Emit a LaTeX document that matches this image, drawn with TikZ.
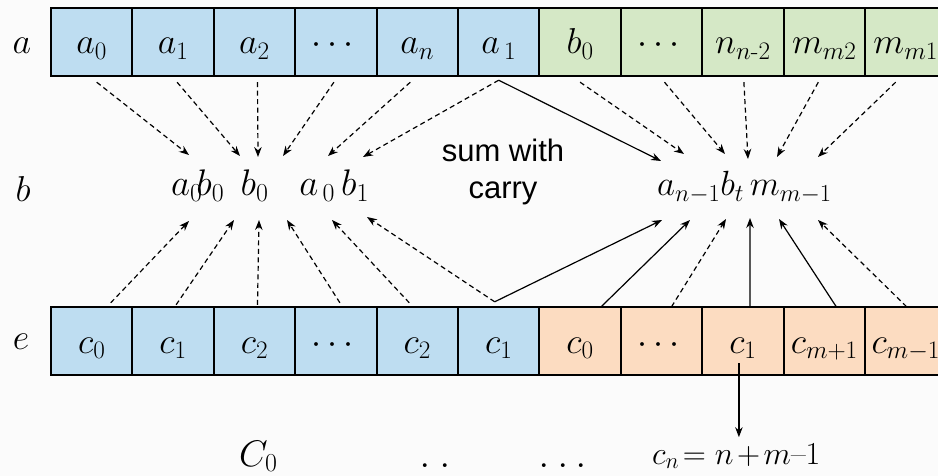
\RequirePackage{fix-cm}
\documentclass[tikz,border=0pt]{standalone}
\usepackage{amsmath}
\usepackage{fontspec}
\setsansfont{Liberation Sans}
\usetikzlibrary{arrows.meta,calc}
\definecolor{cblue}{HTML}{BEDDF1}
\definecolor{cgreen}{HTML}{D5E8C6}
\definecolor{corange}{HTML}{FCDCC1}
\definecolor{bgc}{HTML}{FBFBFB}
\begin{document}
\begin{tikzpicture}[x=1pt,y=-1pt,
  cell/.style={minimum width=81.4pt,minimum height=68pt,inner sep=0pt,
    text height=28pt,text depth=4pt,font=\fontsize{36}{42}\selectfont},
  cellline/.style={line width=1.7pt},
  arr/.style={line width=1.2pt,-{Stealth[length=10pt,width=7.5pt]}},
  dsh/.style={arr,dash pattern=on 5pt off 3.5pt},
  lbl/.style={font=\fontsize{36}{42}\selectfont,inner sep=0pt},
  dots/.style={font=\fontsize{46}{50}\selectfont,inner sep=0pt},
  sumtxt/.style={font=\sffamily\fontsize{31}{37}\selectfont,align=center,inner sep=0pt}]
\useasboundingbox (0,0) rectangle (938,476);
\fill[bgc] (0,0) rectangle (938,476);
\clip (0,0) rectangle (938,476);
% top row
\foreach \i/\t/\c in {0/{$a_0$}/cblue,1/{$a_1$}/cblue,2/{$a_2$}/cblue,3/{$\cdots$}/cblue,
  4/{$a_n$}/cblue,5/{$a_{\,1}$}/cblue,6/{$b_0$}/cgreen,7/{$\cdots$}/cgreen,
  8/{$n_{n\text{-}2}$}/cgreen,9/{$m_{m2}$}/cgreen,10/{$m_{m1}$}/cgreen}
  \node[cell,fill=\c] (t\i) at ({91.7+81.4*\i},42) {\t};
% bottom row
\foreach \i/\t/\c in {0/{$c_0$}/cblue,1/{$c_1$}/cblue,2/{$c_2$}/cblue,3/{$\cdots$}/cblue,
  4/{$c_2$}/cblue,5/{$c_1$}/cblue,6/{$c_0$}/corange,7/{$\cdots$}/corange,
  8/{$c_1$}/corange,9/{$c_{m+1}$}/corange,10/{$c_{m-1}$}/corange}
  \node[cell,fill=\c] (e\i) at ({91.7+81.4*\i},341) {\t};
% cell borders
\foreach \i in {0,...,10} {
  \draw[cellline] (t\i.north west) rectangle (t\i.south east);
  \draw[cellline] (e\i.north west) rectangle (e\i.south east);
}
% row labels
\node[lbl,anchor=base] (la) at (22,54) {$a$};
\node[lbl,anchor=base] (lb) at (23,201) {$b$};
\node[lbl,anchor=base] (le) at (21,349) {$e$};
% middle groups
\node[lbl,anchor=base west,font=\fontsize{37}{42}\selectfont] (lg) at (171,196) {$a_{0}\!b_0\;\, b_0\;\;\; a_{\,0}\,b_1$};
\node[lbl,anchor=base west,font=\fontsize{35}{42}\selectfont] (rg) at (657,196) {$a_{n-1}b_t\, m_{m-1}$};
\node[sumtxt] (sum) at (503,172) {sum with\\carry};
% bottom texts
\node[lbl,anchor=base west,font=\fontsize{37}{42}\selectfont] (c0) at (239,466) {$C_0$};
\node[dots,anchor=base] (dd2) at (435,467) {.\hspace{9pt}.};
\node[dots,anchor=base] (dd3) at (563,467) {.\hspace{7pt}.\hspace{7pt}.};
\node[lbl,anchor=base west,font=\fontsize{32}{40}\selectfont] (cn) at (652,464) {$c_n\!= n \mkern-2mu+\mkern-2mu m\text{–}1$};
% tip coordinates, left group
\coordinate (p1) at (189,155); \coordinate (p2) at (240,156); \coordinate (p3) at (258,157);
\coordinate (p4) at (283,156); \coordinate (p5) at (328,156); \coordinate (p6) at (363,157);
\coordinate (q1) at (189,221); \coordinate (q2) at (234,220); \coordinate (q3) at (259,220);
\coordinate (q4) at (287,220); \coordinate (q5) at (332,220); \coordinate (q6) at (367,217);
% tip coordinates, right group
\coordinate (r0) at (661,161); \coordinate (r1) at (684,154); \coordinate (r2) at (725,154);
\coordinate (r3) at (748,159); \coordinate (r4) at (777,157); \coordinate (r5) at (818,157);
\coordinate (s0) at (662,220); \coordinate (s1) at (690,220); \coordinate (s2) at (726,219);
\coordinate (s3) at (750,218); \coordinate (s4) at (779,219); \coordinate (s5) at (818,220);
% start points
\coordinate (ta0) at ([xshift=5pt,yshift=-6pt]t0.south);
\coordinate (ta1) at ([xshift=4pt,yshift=-6pt]t1.south);
\coordinate (ta2) at ([xshift=3pt,yshift=-6pt]t2.south);
\coordinate (ta3) at ([xshift=-2pt,yshift=-6pt]t3.south);
\coordinate (ta4) at ([xshift=-7pt,yshift=-6pt]t4.south);
\coordinate (ta5) at ([xshift=0pt,yshift=-4pt]t5.south);
\coordinate (ta6) at ([xshift=0pt,yshift=-6pt]t6.south);
\coordinate (ta7) at ([xshift=3pt,yshift=-6pt]t7.south);
\coordinate (ta8) at ([xshift=1pt,yshift=-6pt]t8.south);
\coordinate (ta9) at ([xshift=-6pt,yshift=-6pt]t9.south);
\coordinate (ta10) at ([xshift=-10pt,yshift=-6pt]t10.south);
\coordinate (eb0) at ([xshift=19pt,yshift=4pt]e0.north);
\coordinate (eb1) at ([xshift=3pt,yshift=2pt]e1.north);
\coordinate (eb2) at ([xshift=3pt,yshift=2pt]e2.north);
\coordinate (eb3) at ([xshift=4pt,yshift=4pt]e3.north);
\coordinate (eb4) at ([xshift=-8pt,yshift=4pt]e4.north);
\coordinate (eb5) at ([xshift=-4pt,yshift=5pt]e5.north);
\coordinate (eb6) at ([xshift=21pt,yshift=0pt]e6.north);
\coordinate (eb7) at ([xshift=10pt,yshift=0pt]e7.north);
\coordinate (eb8) at ([xshift=7pt,yshift=0pt]e8.north);
\coordinate (eb9) at ([xshift=12pt,yshift=0pt]e9.north);
\coordinate (eb10) at ([xshift=1pt,yshift=0pt]e10.north);
% top to left group
\draw[dsh] (ta0) -- (p1);
\draw[dsh] (ta1) -- (p2);
\draw[dsh] (ta2) -- (p3);
\draw[dsh] (ta3) -- (p4);
\draw[dsh] (ta4) -- (p5);
\draw[dsh] (ta5) -- (p6);
% top to right group
\draw[arr] (ta5) -- (r0);
\draw[dsh] (ta6) -- (r1);
\draw[dsh] (ta7) -- (r2);
\draw[dsh] (ta8) -- (r3);
\draw[dsh] (ta9) -- (r4);
\draw[dsh] (ta10) -- (r5);
% bottom to left group
\draw[dsh] (eb0) -- (q1);
\draw[dsh] (eb1) -- (q2);
\draw[dsh] (eb2) -- (q3);
\draw[dsh] (eb3) -- (q4);
\draw[dsh] (eb4) -- (q5);
\draw[dsh] (eb5) -- (q6);
% bottom to right group
\draw[arr] (eb5) -- (s0);
\draw[arr] (eb6) -- (s1);
\draw[dsh] (eb7) -- (s2);
\draw[arr] (eb8) -- (s3);
\draw[arr] (eb9) -- (s4);
\draw[dsh] (eb10) -- (s5);
% down arrow
\coordinate (dstart) at ([xshift=-4pt,yshift=-22pt]e8.center);
\draw[arr] (dstart) -- ([yshift=6pt]dstart |- cn.north);
\end{tikzpicture}
\end{document}
